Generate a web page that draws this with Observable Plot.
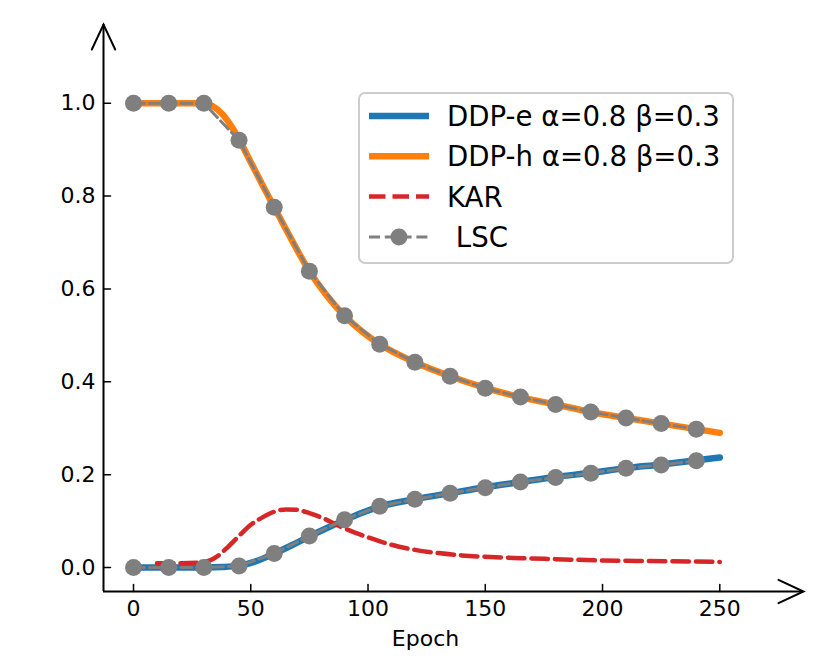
<!DOCTYPE html>
<html>
<head>
<meta charset="utf-8">
<script src="https://cdn.jsdelivr.net/npm/d3@7"></script>
<script src="https://cdn.jsdelivr.net/npm/@observablehq/plot@0.6"></script>
<style>
  html, body { margin: 0; padding: 0; background: #fff; overflow: hidden; }
</style>
</head>
<body>
<div id="chart"></div>
<script>
// ---- data ----
const ddpEEpochs = [0, 15, 30, 38, 45, 52.5, 60, 67.5, 75, 82.5, 90, 97.5, 105, 120, 135, 150, 165, 180, 195, 210, 225, 240, 250];
const ddpEValues = [0, 0, 0, 0.001, 0.004, 0.014, 0.030, 0.048, 0.067, 0.085, 0.102, 0.118, 0.131, 0.147, 0.160, 0.173, 0.184, 0.195, 0.204, 0.214, 0.222, 0.231, 0.237];

const ddpHEpochs = [0, 15, 30, 34, 38, 42, 45, 50, 55, 60, 67.5, 75, 82.5, 90, 97.5, 105, 120, 135, 150, 165, 180, 195, 210, 225, 240, 250];
const ddpHValues = [1.0, 1.0, 1.0, 0.993, 0.976, 0.948, 0.922, 0.873, 0.824, 0.776, 0.705, 0.638, 0.585, 0.542, 0.508, 0.481, 0.442, 0.412, 0.387, 0.367, 0.351, 0.335, 0.322, 0.310, 0.298, 0.290];

const karEpochs = [10, 20, 27, 32, 36, 40, 45, 50, 55, 60, 65, 70, 75, 80, 87, 95, 100, 110, 120, 130, 140, 150, 165, 180, 200, 220, 250];
const karValues = [0.009, 0.009, 0.010, 0.014, 0.025, 0.043, 0.068, 0.092, 0.108, 0.120, 0.125, 0.124, 0.117, 0.108, 0.091, 0.074, 0.065, 0.049, 0.038, 0.031, 0.026, 0.023, 0.020, 0.018, 0.015, 0.014, 0.012];

const lscEpochs = [0, 15, 30, 45, 60, 75, 90, 105, 120, 135, 150, 165, 180, 195, 210, 225, 240];
const lscUpper = [1.0, 1.0, 1.0, 0.920, 0.776, 0.638, 0.542, 0.481, 0.442, 0.412, 0.386, 0.367, 0.351, 0.335, 0.322, 0.310, 0.298];
const lscLower = [0, 0, 0, 0.003, 0.030, 0.068, 0.103, 0.132, 0.147, 0.160, 0.172, 0.184, 0.194, 0.203, 0.214, 0.221, 0.230];

const xTicks = [0, 50, 100, 150, 200, 250];
const yTicks = [0.0, 0.2, 0.4, 0.6, 0.8, 1.0];
const legendLabels = ["DDP-e α=0.8 β=0.3", "DDP-h α=0.8 β=0.3", "KAR", " LSC"];
const xLabel = "Epoch";

// ---- tables ----
const toRows = (xs, ys) => xs.map((x, i) => ({x, y: ys[i]}));
const ddpE = toRows(ddpEEpochs, ddpEValues);
const ddpH = toRows(ddpHEpochs, ddpHValues);
const kar = toRows(karEpochs, karValues);
const lscU = toRows(lscEpochs, lscUpper);
const lscL = toRows(lscEpochs, lscLower);

const C = {blue: "#1f77b4", orange: "#ff7f0e", red: "#d62728", gray: "#7f7f7f"};
const FONT = "DejaVu Sans";
const xDomain = [-12.8, 285.7];
const yDomain = [-0.0517, 1.1695];

const tickShape = {draw(ctx, l) { ctx.moveTo(0, 0); ctx.lineTo(0, -l); }};
const chevron = {draw(ctx) { ctx.moveTo(-11.7, 25); ctx.lineTo(0, 0); ctx.lineTo(11.7, 25); }};

const plot = Plot.plot({
  width: 830,
  height: 664,
  marginLeft: 103,
  marginRight: 27,
  marginTop: 24,
  marginBottom: 73,
  x: {domain: xDomain, axis: null},
  y: {domain: yDomain, axis: null},
  style: {fontFamily: FONT, background: "white", color: "black"},
  marks: [
    // data
    Plot.line(ddpE, {x: "x", y: "y", stroke: C.blue, strokeWidth: 6.5, curve: "monotone-x"}),
    Plot.line(ddpH, {x: "x", y: "y", stroke: C.orange, strokeWidth: 6.5, curve: "monotone-x"}),
    Plot.line(kar, {x: "x", y: "y", stroke: C.red, strokeWidth: 4.5, strokeDasharray: "16.5,7", curve: "monotone-x"}),
    Plot.line(lscU, {x: "x", y: "y", stroke: C.gray, strokeWidth: 3, strokeDasharray: "11,4.8"}),
    Plot.dot(lscU, {x: "x", y: "y", r: 8.5, fill: C.gray}),
    Plot.line(lscL, {x: "x", y: "y", stroke: C.gray, strokeWidth: 3, strokeDasharray: "11,4.8"}),
    Plot.dot(lscL, {x: "x", y: "y", r: 8.5, fill: C.gray}),
    // axis lines
    Plot.ruleY([yDomain[0]], {stroke: "black", strokeWidth: 2}),
    Plot.ruleX([xDomain[0]], {stroke: "black", strokeWidth: 2}),
    // arrowheads
    Plot.vector([xDomain[1]], {x: d => d, y: yDomain[0], rotate: 90, length: 25, anchor: "start", shape: chevron, stroke: "black", strokeWidth: 2, strokeLinejoin: "miter"}),
    Plot.vector([yDomain[1]], {x: xDomain[0], y: d => d, rotate: 0, length: 25, anchor: "start", shape: chevron, stroke: "black", strokeWidth: 2, strokeLinejoin: "miter"}),
    // inward ticks
    Plot.vector(xTicks, {x: d => d, y: yDomain[0], rotate: 0, length: 7, anchor: "start", shape: tickShape, stroke: "black", strokeWidth: 1.5}),
    Plot.vector(yTicks, {x: xDomain[0], y: d => d, rotate: 90, length: 7, anchor: "start", shape: tickShape, stroke: "black", strokeWidth: 1.5}),
    // tick labels
    Plot.axisX(xTicks, {anchor: "bottom", tickSize: 0, tickPadding: 9, fontSize: 22, label: null, tickFormat: d3.format("d")}),
    Plot.axisY(yTicks, {anchor: "left", tickSize: 0, tickPadding: 8, fontSize: 22, label: null, tickFormat: d3.format(".1f")}),
    Plot.text([xLabel], {frameAnchor: "bottom", dx: -28, dy: 47, fontSize: 22, lineAnchor: "middle", fill: "black"})
  ]
});

document.getElementById("chart").appendChild(plot);

// ---- legend (inside the axes, upper right) ----
const svg = d3.select(plot);
const lg = svg.append("g")
  .attr("font-family", FONT)
  .attr("font-size", 27.6)
  .attr("text-anchor", "start");
lg.append("rect")
  .attr("x", 359).attr("y", 93).attr("width", 374).attr("height", 170)
  .attr("rx", 6).attr("ry", 6)
  .attr("fill", "white").attr("fill-opacity", 0.8)
  .attr("stroke", "#cccccc").attr("stroke-width", 2);

const rowY = [116, 156.3, 196.6, 236.9];
const samples = [
  {stroke: C.blue, width: 6.5, dash: null, dot: false},
  {stroke: C.orange, width: 6.5, dash: null, dot: false},
  {stroke: C.red, width: 4.5, dash: "16.5,7", dot: false},
  {stroke: C.gray, width: 3, dash: "11,4.8", dot: true}
];
legendLabels.forEach((label, i) => {
  const s = samples[i];
  const y = rowY[i];
  const ln = lg.append("line")
    .attr("x1", 369).attr("x2", 429).attr("y1", y).attr("y2", y)
    .attr("stroke", s.stroke).attr("stroke-width", s.width);
  if (s.dash) ln.attr("stroke-dasharray", s.dash);
  if (s.dot) lg.append("circle").attr("cx", 399).attr("cy", y).attr("r", 8.5).attr("fill", C.gray);
  lg.append("text")
    .attr("x", 447).attr("y", y + 10)
    .attr("text-anchor", "start")
    .style("white-space", "pre")
    .attr("fill", "black")
    .text(label);
});
</script>
</body>
</html>
